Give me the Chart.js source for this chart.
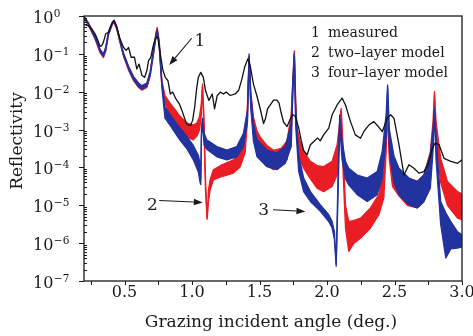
<!DOCTYPE html>
<html>
<head>
<meta charset="utf-8">
<script src="https://cdn.jsdelivr.net/npm/chart.js@4/dist/chart.umd.min.js"></script>
<style>
  html, body { margin: 0; padding: 0; background: #fff; }
  #wrap { width: 473px; height: 336px; position: relative; }
  canvas { display: block; }
</style>
</head>
<body>
<div id="wrap"><canvas id="c" width="473" height="336"></canvas></div>
<script>
// ---------------- data ----------------
// angles in degrees; reflectivity given as its base-10 exponent
const measuredAngle = [0.20,0.233,0.26,0.282,0.30,0.319,0.332,0.344,0.361,0.381,0.40,0.411,0.423,0.443,0.467,0.493,0.512,0.530,0.549,0.574,0.591,0.608,0.629,0.649,0.666,0.678,0.695,0.710,0.723,0.738,0.747,0.765,0.785,0.802,0.822,0.839,0.857,0.881,0.906,0.926,0.945,0.961,0.975,0.99,1.005,1.02,1.035,1.047,1.065,1.084,1.10,1.125,1.15,1.167,1.187,1.21,1.233,1.253,1.283,1.32,1.345,1.37,1.39,1.414,1.431,1.455,1.48,1.505,1.53,1.545,1.56,1.58,1.604,1.629,1.645,1.66,1.678,1.704,1.725,1.745,1.765,1.79,1.81,1.827,1.852,1.877,1.901,1.93,1.95,1.975,2.013,2.038,2.075,2.112,2.137,2.174,2.21,2.248,2.273,2.31,2.347,2.38,2.41,2.446,2.471,2.496,2.533,2.57,2.607,2.644,2.681,2.718,2.75,2.78,2.80,2.83,2.867,2.917,2.967,3.0];
const measuredExp = [-0.22,-0.26,-0.35,-0.47,-0.62,-0.80,-0.78,-0.69,-0.47,-0.43,-0.25,-0.17,-0.12,-0.30,-0.61,-0.83,-0.91,-0.83,-1.09,-1.09,-1.40,-1.27,-1.57,-1.62,-1.44,-1.18,-1.09,-0.83,-0.65,-0.55,-0.56,-1.00,-1.44,-1.62,-1.71,-2.06,-2.01,-2.19,-2.32,-2.50,-2.70,-2.85,-2.88,-2.89,-2.75,-2.40,-1.90,-1.62,-1.49,-1.62,-1.97,-2.23,-2.06,-2.45,-2.10,-2.01,-2.06,-2.01,-2.10,-2.06,-1.97,-1.66,-1.35,-1.13,-1.31,-1.80,-2.10,-2.45,-2.84,-2.70,-2.45,-2.35,-2.22,-2.22,-2.30,-2.55,-2.80,-2.92,-2.75,-2.60,-2.65,-2.95,-3.30,-3.55,-3.67,-3.40,-3.32,-3.22,-3.30,-3.14,-2.96,-2.61,-2.35,-2.17,-2.35,-2.79,-3.14,-3.23,-3.05,-2.88,-2.79,-2.92,-3.05,-2.70,-2.61,-2.70,-3.40,-4.20,-3.93,-4.02,-4.15,-4.11,-3.90,-3.50,-3.36,-3.40,-3.76,-3.84,-3.89,-3.80];

// two-layer model: fringes form a band, given by its upper and lower edge
const twoLayerAngle = [0.20,0.233,0.282,0.319,0.344,0.361,0.381,0.411,0.423,0.443,0.467,0.493,0.530,0.567,0.604,0.629,0.666,0.690,0.715,0.733,0.742,0.757,0.777,0.80,0.837,0.881,0.911,0.961,1.01,1.035,1.055,1.068,1.078,1.088,1.100,1.112,1.122,1.134,1.158,1.221,1.307,1.357,1.394,1.410,1.423,1.435,1.455,1.481,1.505,1.555,1.604,1.66,1.704,1.735,1.748,1.758,1.768,1.778,1.80,1.827,1.877,1.926,1.975,2.038,2.075,2.094,2.105,2.12,2.137,2.161,2.20,2.248,2.322,2.384,2.421,2.438,2.449,2.462,2.485,2.533,2.595,2.669,2.718,2.765,2.785,2.796,2.808,2.842,2.892,2.967,3.0];
const twoLayerHighExp = [-0.02,-0.20,-0.55,-0.90,-1.02,-0.85,-0.45,-0.17,-0.13,-0.30,-0.65,-1.00,-1.35,-1.62,-1.79,-1.86,-1.79,-1.49,-0.91,-0.45,-0.30,-0.65,-1.71,-2.10,-2.30,-2.50,-2.65,-2.82,-2.88,-2.83,-2.66,-2.35,-1.80,-2.60,-4.30,-5.34,-4.60,-4.33,-4.06,-3.93,-3.80,-3.62,-3.27,-2.41,-1.09,-2.00,-2.67,-3.03,-3.20,-3.42,-3.55,-3.50,-3.30,-2.59,-1.60,-0.92,-2.20,-2.96,-3.30,-3.58,-3.84,-3.95,-3.98,-3.84,-3.40,-2.80,-2.44,-3.50,-5.00,-5.43,-5.40,-5.34,-5.07,-4.72,-4.11,-3.20,-2.45,-3.40,-3.90,-4.10,-4.28,-4.37,-4.20,-3.60,-2.80,-2.00,-2.80,-3.76,-4.37,-4.64,-4.70];
const twoLayerLowExp = [-0.06,-0.25,-0.61,-0.97,-1.10,-0.93,-0.51,-0.21,-0.17,-0.35,-0.71,-1.07,-1.43,-1.71,-1.89,-1.96,-1.89,-1.59,-1.00,-0.53,-0.36,-0.76,-1.82,-2.30,-2.60,-2.85,-3.00,-3.20,-3.27,-3.18,-3.02,-2.65,-1.86,-2.95,-4.60,-5.37,-4.90,-4.60,-4.33,-4.24,-4.15,-3.98,-3.60,-2.80,-1.15,-2.30,-3.10,-3.50,-3.71,-3.95,-4.06,-3.95,-3.80,-3.10,-1.90,-0.98,-2.60,-3.30,-3.80,-4.02,-4.30,-4.55,-4.64,-4.50,-4.20,-3.20,-2.50,-4.20,-5.60,-6.22,-6.00,-5.87,-5.60,-5.25,-4.80,-3.60,-2.55,-3.80,-4.50,-4.75,-5.00,-5.07,-4.90,-4.40,-3.30,-2.10,-3.20,-4.40,-5.00,-5.34,-5.38];

// four-layer model band
const fourLayerAngle = [0.20,0.233,0.282,0.319,0.344,0.361,0.381,0.411,0.423,0.443,0.467,0.493,0.530,0.567,0.604,0.629,0.666,0.690,0.715,0.733,0.742,0.757,0.777,0.80,0.837,0.881,0.911,0.961,1.01,1.047,1.060,1.065,1.070,1.077,1.090,1.109,1.184,1.258,1.332,1.381,1.411,1.423,1.435,1.455,1.481,1.555,1.629,1.691,1.735,1.748,1.758,1.768,1.79,1.827,1.877,1.951,2.013,2.038,2.055,2.068,2.080,2.094,2.112,2.137,2.161,2.224,2.298,2.372,2.409,2.438,2.449,2.462,2.496,2.533,2.607,2.669,2.718,2.765,2.785,2.796,2.808,2.842,2.880,2.917,2.967,3.0];
const fourLayerHighExp = [0.00,-0.18,-0.52,-0.88,-1.00,-0.82,-0.42,-0.15,-0.11,-0.28,-0.63,-0.98,-1.33,-1.60,-1.77,-1.84,-1.77,-1.47,-0.89,-0.47,-0.36,-0.70,-1.75,-2.40,-2.60,-2.82,-2.95,-3.18,-3.42,-3.68,-3.90,-4.30,-3.00,-2.70,-3.10,-3.27,-3.45,-3.54,-3.45,-3.10,-2.48,-1.00,-2.00,-2.83,-3.27,-3.54,-3.62,-3.45,-2.83,-1.60,-1.00,-2.40,-3.67,-4.28,-4.64,-4.99,-5.25,-5.43,-5.70,-6.55,-4.50,-2.61,-3.30,-3.84,-4.02,-4.20,-4.28,-4.11,-3.58,-2.60,-1.82,-3.00,-3.70,-4.02,-4.28,-4.37,-4.20,-3.67,-3.00,-2.45,-3.20,-4.90,-5.20,-5.43,-5.70,-5.78];
const fourLayerLowExp = [-0.04,-0.22,-0.58,-0.94,-1.07,-0.90,-0.48,-0.19,-0.15,-0.33,-0.68,-1.04,-1.40,-1.68,-1.86,-1.93,-1.86,-1.56,-0.98,-0.55,-0.42,-0.80,-1.90,-2.70,-2.88,-3.12,-3.28,-3.50,-3.80,-4.12,-4.40,-4.45,-3.20,-2.80,-3.40,-3.52,-3.72,-3.80,-3.72,-3.45,-2.80,-1.06,-2.40,-3.30,-3.71,-3.98,-4.06,-3.89,-3.45,-1.90,-1.06,-2.90,-4.10,-4.64,-4.90,-5.16,-5.43,-5.60,-5.90,-6.61,-5.00,-2.90,-3.80,-4.30,-4.46,-4.72,-4.90,-4.72,-4.28,-3.20,-1.90,-3.60,-4.40,-4.72,-4.99,-5.07,-4.90,-4.55,-3.60,-2.55,-3.80,-5.50,-6.39,-6.15,-6.13,-6.10];

// axes
const xTickValues = [0.25,0.5,0.75,1.0,1.25,1.5,1.75,2.0,2.25,2.5,2.75,3.0];
const xTickLabels = ['0.5','1.0','1.5','2.0','2.5','3.0'];
const yDecadeExps = [0,-1,-2,-3,-4,-5,-6,-7];
const yTickExpLabels = ['0','\u22121','\u22122','\u22123','\u22124','\u22125','\u22126','\u22127'];
const xTitle = 'Grazing incident angle (deg.)';
const yTitle = 'Reflectivity';

// legend text block
const legendNumbers = ['1','2','3'];
const legendTexts = ['measured','two\u2013layer model','four\u2013layer model'];

// numbered arrows (data coordinates: angle, exponent)
const callouts = [
  { label: '1', tx: 1.059, ty: -0.792, fromX: 0.998, fromY: -0.588, toX: 0.831, toY: -1.293 },
  { label: '2', tx: 0.707, ty: -5.119, fromX: 0.757, fromY: -4.873, toX: 1.080, toY: -4.926 },
  { label: '3', tx: 1.530, ty: -5.251, fromX: 1.600, fromY: -5.119, toX: 1.840, toY: -5.164 }
];

// ---------------- build ----------------
const toPts = (xs, es) => xs.map((a, i) => ({ x: a, y: Math.pow(10, es[i]) }));

const RED = '#ea1d25';
const BLUE = '#22329e';
const SERIF = '"DejaVu Serif", "Liberation Serif", serif';

const decor = {
  id: 'decor',
  afterDraw(chart) {
    const { ctx, chartArea: ca, scales } = chart;
    const x = scales.x, y = scales.y;
    ctx.save();
    ctx.strokeStyle = '#1a1a1a';
    ctx.fillStyle = '#1a1a1a';
    ctx.lineWidth = 1.3;
    ctx.strokeRect(ca.left, ca.top, ca.right - ca.left, ca.bottom - ca.top);

    ctx.lineWidth = 1;
    ctx.beginPath();
    // x ticks (outward)
    xTickValues.forEach(v => {
      const px = Math.round(x.getPixelForValue(v)) + 0.5;
      ctx.moveTo(px, ca.bottom); ctx.lineTo(px, ca.bottom + 4);
    });
    // y major ticks (outward) and minor ticks (inward)
    yDecadeExps.forEach(d => {
      const py = Math.round(y.getPixelForValue(Math.pow(10, d))) + 0.5;
      ctx.moveTo(ca.left - 5, py); ctx.lineTo(ca.left, py);
      if (d > -7) {
        for (let m = 2; m <= 9; m++) {
          const pm = Math.round(y.getPixelForValue(m * Math.pow(10, d - 1))) + 0.5;
          ctx.moveTo(ca.left, pm); ctx.lineTo(ca.left + 3, pm);
        }
      }
    });
    ctx.stroke();

    // x tick labels
    ctx.font = '16px ' + SERIF;
    ctx.textAlign = 'center';
    ctx.textBaseline = 'alphabetic';
    xTickLabels.forEach(l => {
      ctx.fillText(l, x.getPixelForValue(parseFloat(l)), ca.bottom + 16);
    });
    // y tick labels: 10 with exponent
    ctx.textAlign = 'left';
    yDecadeExps.forEach((d, i) => {
      const py = y.getPixelForValue(Math.pow(10, d));
      ctx.font = '16px ' + SERIF;
      const w = ctx.measureText('10').width;
      ctx.fillText('10', 33, py + 7);
      ctx.font = '10.5px ' + SERIF;
      ctx.fillText(yTickExpLabels[i], 33 + w + 0.5, py + 1);
    });
    // axis titles
    ctx.font = '17px ' + SERIF;
    ctx.textAlign = 'center';
    ctx.fillText(xTitle, 271, 327);
    ctx.save();
    ctx.translate(21.5, 141);
    ctx.rotate(-Math.PI / 2);
    ctx.fillText(yTitle, 0, 0);
    ctx.restore();

    // legend block
    ctx.font = '14px ' + SERIF;
    legendNumbers.forEach((n, i) => {
      const by = 37 + i * 20;
      ctx.textAlign = 'center';
      ctx.fillText(n, 315.5, by);
      ctx.textAlign = 'left';
      ctx.fillText(legendTexts[i], 328, by);
    });

    // callouts
    callouts.forEach(c => {
      ctx.font = '17px ' + SERIF;
      ctx.textAlign = 'center';
      ctx.fillText(c.label, x.getPixelForValue(c.tx), y.getPixelForValue(Math.pow(10, c.ty)));
      const x0 = x.getPixelForValue(c.fromX), y0 = y.getPixelForValue(Math.pow(10, c.fromY));
      const x1 = x.getPixelForValue(c.toX), y1 = y.getPixelForValue(Math.pow(10, c.toY));
      const ang = Math.atan2(y1 - y0, x1 - x0);
      const hl = 9, hw = 3.2;
      const bx = x1 - hl * Math.cos(ang), by = y1 - hl * Math.sin(ang);
      ctx.lineWidth = 1.1;
      ctx.beginPath();
      ctx.moveTo(x0, y0); ctx.lineTo(bx, by);
      ctx.stroke();
      ctx.beginPath();
      ctx.moveTo(x1, y1);
      ctx.lineTo(bx + hw * Math.sin(ang), by - hw * Math.cos(ang));
      ctx.lineTo(bx - hw * Math.sin(ang), by + hw * Math.cos(ang));
      ctx.closePath();
      ctx.fill();
    });
    ctx.restore();
  }
};

new Chart(document.getElementById('c'), {
  type: 'line',
  data: {
    datasets: [
      { label: 'measured', data: toPts(measuredAngle, measuredExp), borderColor: '#111', borderWidth: 1.3, fill: false },
      { label: 'four-layer model', data: toPts(fourLayerAngle, fourLayerHighExp), borderColor: BLUE, borderWidth: 1.3, fill: false },
      { label: 'four-layer model (lower)', data: toPts(fourLayerAngle, fourLayerLowExp), borderColor: BLUE, borderWidth: 1.3, backgroundColor: BLUE, fill: '-1' },
      { label: 'two-layer model', data: toPts(twoLayerAngle, twoLayerHighExp), borderColor: RED, borderWidth: 1.3, fill: false },
      { label: 'two-layer model (lower)', data: toPts(twoLayerAngle, twoLayerLowExp), borderColor: RED, borderWidth: 1.3, backgroundColor: RED, fill: '-1' }
    ]
  },
  options: {
    responsive: false,
    animation: false,
    devicePixelRatio: 1,
    layout: { padding: { left: 84, top: 16, right: 11, bottom: 55 } },
    elements: { point: { radius: 0 }, line: { tension: 0, borderJoinStyle: 'round' } },
    scales: {
      x: { type: 'linear', min: 0.2, max: 3.0, display: false },
      y: { type: 'logarithmic', min: 1e-7, max: 1, display: false }
    },
    plugins: { legend: { display: false }, tooltip: { enabled: false } }
  },
  plugins: [decor]
});
</script>
</body>
</html>
